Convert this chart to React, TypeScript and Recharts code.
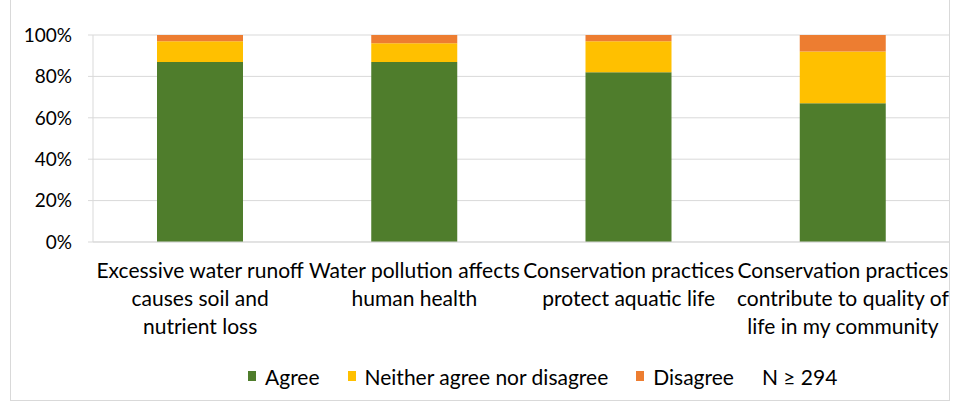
import React from "react";
import { BarChart, Bar, XAxis, YAxis, CartesianGrid, Legend } from "recharts";

const categories = [
  "Excessive water runoff causes soil and nutrient loss",
  "Water pollution affects human health",
  "Conservation practices protect aquatic life",
  "Conservation practices contribute to quality of life in my community",
];

// wrapped the way the original axis breaks them
const categoryLines = [
  ["Excessive water runoff", "causes soil and", "nutrient loss"],
  ["Water pollution affects", "human health"],
  ["Conservation practices", "protect aquatic life"],
  ["Conservation practices", "contribute to quality of", "life in my community"],
];

const agree = [87, 87, 82, 67];
const neither = [10, 9, 15, 25];
const disagree = [3, 4, 3, 8];

const yTicks = [0, 20, 40, 60, 80, 100];
const sampleNote = "N \u2265 294";

const series = [
  { key: "agree", name: "Agree", color: "#4f7d2c" },
  { key: "neither", name: "Neither agree nor disagree", color: "#ffc000" },
  { key: "disagree", name: "Disagree", color: "#ed7d31" },
];

const data = categories.map((c, i) => ({
  category: c,
  agree: agree[i],
  neither: neither[i],
  disagree: disagree[i],
}));

const FONT = "Lato, 'Open Sans', sans-serif";

const CategoryTick = ({ x, y, payload }: any) => {
  const lines = categoryLines[payload.index] ?? [payload.value];
  return (
    <g transform={`translate(${x},${y})`}>
      {lines.map((line: string, i: number) => (
        <text
          key={i}
          x={0}
          y={i * 28}
          dy={28}
          textAnchor="middle"
          fill="#000"
          fontSize={21}
          fontFamily={FONT}
        >
          {line}
        </text>
      ))}
    </g>
  );
};

const LegendContent = () => (
  <div
    style={{
      height: 40,
      display: "flex",
      alignItems: "center",
      paddingLeft: 235,
      paddingTop: 8,
      boxSizing: "border-box",
      fontFamily: FONT,
      fontSize: 21,
      color: "#000",
    }}
  >
    {series.map((s) => (
      <div key={s.key} style={{ display: "flex", alignItems: "center", marginRight: 28 }}>
        <span
          style={{ width: 8, height: 10, background: s.color, display: "inline-block", marginRight: 9 }}
        />
        {s.name}
      </div>
    ))}
    <span>{sampleNote}</span>
  </div>
);

export default function App() {
  return (
    <div style={{ position: "relative", width: 960, height: 401, background: "#fff" }}>
      <style>{"body{margin:0}"}</style>
      <div
        style={{
          position: "absolute",
          left: 10,
          top: -1,
          width: 940,
          height: 402,
          border: "1px solid #d9d9d9",
          boxSizing: "border-box",
        }}
      />
      <BarChart
        width={960}
        height={401}
        data={data}
        margin={{ top: 35, right: 10, bottom: 9, left: 13 }}
        barSize={86}
      >
        <CartesianGrid vertical={false} stroke="#d9d9d9" />
        <XAxis
          dataKey="category"
          interval={0}
          height={110}
          tick={<CategoryTick />}
          tickLine={false}
          axisLine={{ stroke: "#d9d9d9" }}
        />
        <YAxis
          width={80}
          domain={[0, 100]}
          ticks={yTicks}
          tickFormatter={(v: number) => `${v}%`}
          tick={{ fill: "#000", fontSize: 19, fontFamily: FONT }}
          tickSize={5}
          tickMargin={16}
          tickLine={{ stroke: "#d9d9d9" }}
          axisLine={{ stroke: "#d9d9d9" }}
        />
        <Legend verticalAlign="bottom" content={<LegendContent />} />
        {series.map((s) => (
          <Bar
            key={s.key}
            dataKey={s.key}
            name={s.name}
            stackId="a"
            fill={s.color}
            isAnimationActive={false}
          />
        ))}
      </BarChart>
    </div>
  );
}
